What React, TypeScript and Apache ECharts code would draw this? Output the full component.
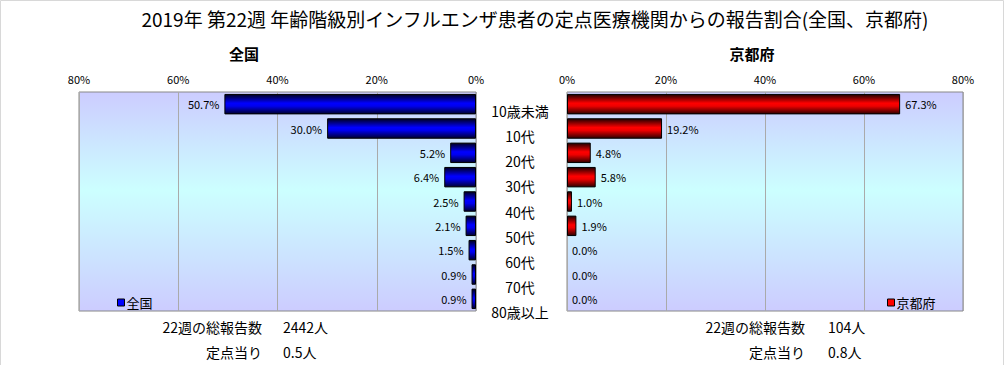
import React, { useEffect, useRef } from "react";
import * as echarts from "echarts";

const categories = ["10歳未満", "10代", "20代", "30代", "40代", "50代", "60代", "70代", "80歳以上"];
const nationalValues = [50.7, 30.0, 5.2, 6.4, 2.5, 2.1, 1.5, 0.9, 0.9];
const kyotoValues = [67.3, 19.2, 4.8, 5.8, 1.0, 1.9, 0.0, 0.0, 0.0];
const axisTicks = { min: 0, max: 80, interval: 20 };
const titleText = "2019年 第22週 年齢階級別インフルエンザ患者の定点医療機関からの報告割合(全国、京都府)";
const nationalTotal = ["22週の総報告数", "2442人"];
const nationalPer = ["定点当り", "0.5人"];
const kyotoTotal = ["22週の総報告数", "104人"];
const kyotoPer = ["定点当り", "0.8人"];

const FONT = "'Noto Sans CJK JP', 'Noto Sans', sans-serif";

const bgGrad = new echarts.graphic.LinearGradient(0, 0, 0, 1, [
  { offset: 0, color: "#ccccff" },
  { offset: 0.45, color: "#ccffff" },
  { offset: 1, color: "#ccccff" },
]);
const blueGrad = new echarts.graphic.LinearGradient(0, 0, 0, 1, [
  { offset: 0, color: "#000020" },
  { offset: 0.45, color: "#0000ff" },
  { offset: 0.6, color: "#0000ee" },
  { offset: 1, color: "#000030" },
]);
const redGrad = new echarts.graphic.LinearGradient(0, 0, 0, 1, [
  { offset: 0, color: "#200000" },
  { offset: 0.45, color: "#ff0000" },
  { offset: 0.6, color: "#ee0000" },
  { offset: 1, color: "#300000" },
]);

const toBarData = (vals: number[]) =>
  vals.map((v) =>
    v === 0 ? { value: v, itemStyle: { borderWidth: 0, color: "rgba(0,0,0,0)" } } : { value: v }
  );

export default function App() {
  const ref = useRef<HTMLDivElement>(null);
  useEffect(() => {
    if (!ref.current) return;
    const chart = echarts.init(ref.current, undefined, { renderer: "svg" });
    const valueAxisCommon = {
      type: "value" as const,
      position: "top" as const,
      min: axisTicks.min,
      max: axisTicks.max,
      interval: axisTicks.interval,
      axisLine: { show: false },
      axisTick: { show: false },
      splitLine: { show: true, lineStyle: { color: "#aaaaaa", width: 1 } },
      axisLabel: { formatter: "{value}%", color: "#000", fontSize: 11, fontFamily: FONT },
    };
    const gridCommon = {
      show: true,
      backgroundColor: bgGrad,
      borderColor: "#888888",
      borderWidth: 1,
      containLabel: false,
    };
    const txt = (x: number, y: number, text: string, align: string, size = 14, weight = "normal") => ({
      type: "text",
      x,
      y,
      style: {
        text,
        fill: "#000",
        font: `${weight} ${size}px ${FONT}`,
        textAlign: align,
        textVerticalAlign: "middle",
      },
    });
    const labelCommon = {
      show: true,
      distance: 5,
      formatter: (p: any) => Number(p.value).toFixed(1) + "%",
      fontSize: 11,
      color: "#000",
      fontFamily: FONT,
    };
    chart.setOption({
      animation: false,
      backgroundColor: "#ffffff",
      textStyle: { fontFamily: FONT },
      grid: [
        { ...gridCommon, left: 79, top: 92, width: 397, height: 219 },
        { ...gridCommon, left: 567, top: 92, width: 396, height: 219 },
        { show: false, left: 420, top: 98.5, width: 56, height: 226 },
      ],
      xAxis: [
        { ...valueAxisCommon, gridIndex: 0, inverse: true },
        { ...valueAxisCommon, gridIndex: 1 },
        { type: "value", gridIndex: 2, show: false, min: 0, max: 1 },
      ],
      yAxis: [
        {
          type: "category",
          gridIndex: 0,
          data: categories,
          inverse: true,
          axisLine: { show: false },
          axisTick: { show: false },
          axisLabel: { show: false },
        },
        {
          type: "category",
          gridIndex: 1,
          data: categories,
          inverse: true,
          axisLine: { show: false },
          axisTick: { show: false },
          axisLabel: { show: false },
        },
        {
          type: "category",
          gridIndex: 2,
          data: categories,
          inverse: true,
          position: "right",
          axisLine: { show: false },
          axisTick: { show: false },
          axisLabel: {
            show: true,
            align: "center",
            margin: 44,
            fontSize: 14,
            color: "#000",
            fontFamily: FONT,
          },
        },
      ],
      legend: [
        {
          data: ["全国"],
          left: 112,
          top: 291,
          itemWidth: 7,
          itemHeight: 7,
          icon: "rect",
          itemStyle: { color: "#0000ff", borderColor: "#000", borderWidth: 1 },
          textStyle: { fontSize: 13, color: "#000", fontFamily: FONT, padding: [0, 0, 0, -3] },
        },
        {
          data: ["京都府"],
          left: 882,
          top: 291,
          itemWidth: 7,
          itemHeight: 7,
          icon: "rect",
          itemStyle: { color: "#ff0000", borderColor: "#000", borderWidth: 1 },
          textStyle: { fontSize: 13, color: "#000", fontFamily: FONT, padding: [0, 0, 0, -3] },
        },
      ],
      series: [
        {
          name: "全国",
          type: "bar",
          xAxisIndex: 0,
          yAxisIndex: 0,
          data: toBarData(nationalValues),
          barCategoryGap: "16%",
          itemStyle: { color: blueGrad, borderColor: "#000000", borderWidth: 1 },
          label: { ...labelCommon, position: "left" },
        },
        {
          name: "京都府",
          type: "bar",
          xAxisIndex: 1,
          yAxisIndex: 1,
          data: toBarData(kyotoValues),
          barCategoryGap: "16%",
          itemStyle: { color: redGrad, borderColor: "#000000", borderWidth: 1 },
          label: { ...labelCommon, position: "right" },
        },
      ],
      graphic: [
        {
          type: "rect",
          shape: { x: 0.5, y: 0.5, width: 1003, height: 380 },
          style: { fill: "none", stroke: "#d8d8d8", lineWidth: 1 },
          silent: true,
        },
        txt(535, 18, titleText, "center", 19),
        txt(244, 53, "全国", "center", 15, "bold"),
        txt(752, 53, "京都府", "center", 15, "bold"),
        txt(262, 327, nationalTotal[0], "right"),
        txt(283, 327, nationalTotal[1], "left"),
        txt(262, 352, nationalPer[0], "right"),
        txt(283, 352, nationalPer[1], "left"),
        txt(805, 327, kyotoTotal[0], "right"),
        txt(828, 327, kyotoTotal[1], "left"),
        txt(805, 352, kyotoPer[0], "right"),
        txt(828, 352, kyotoPer[1], "left"),
      ],
    });
    return () => chart.dispose();
  }, []);
  return (
    <div
      ref={ref}
      style={{ position: "fixed", left: 0, top: 0, width: 1006, height: 365 }}
    />
  );
}
